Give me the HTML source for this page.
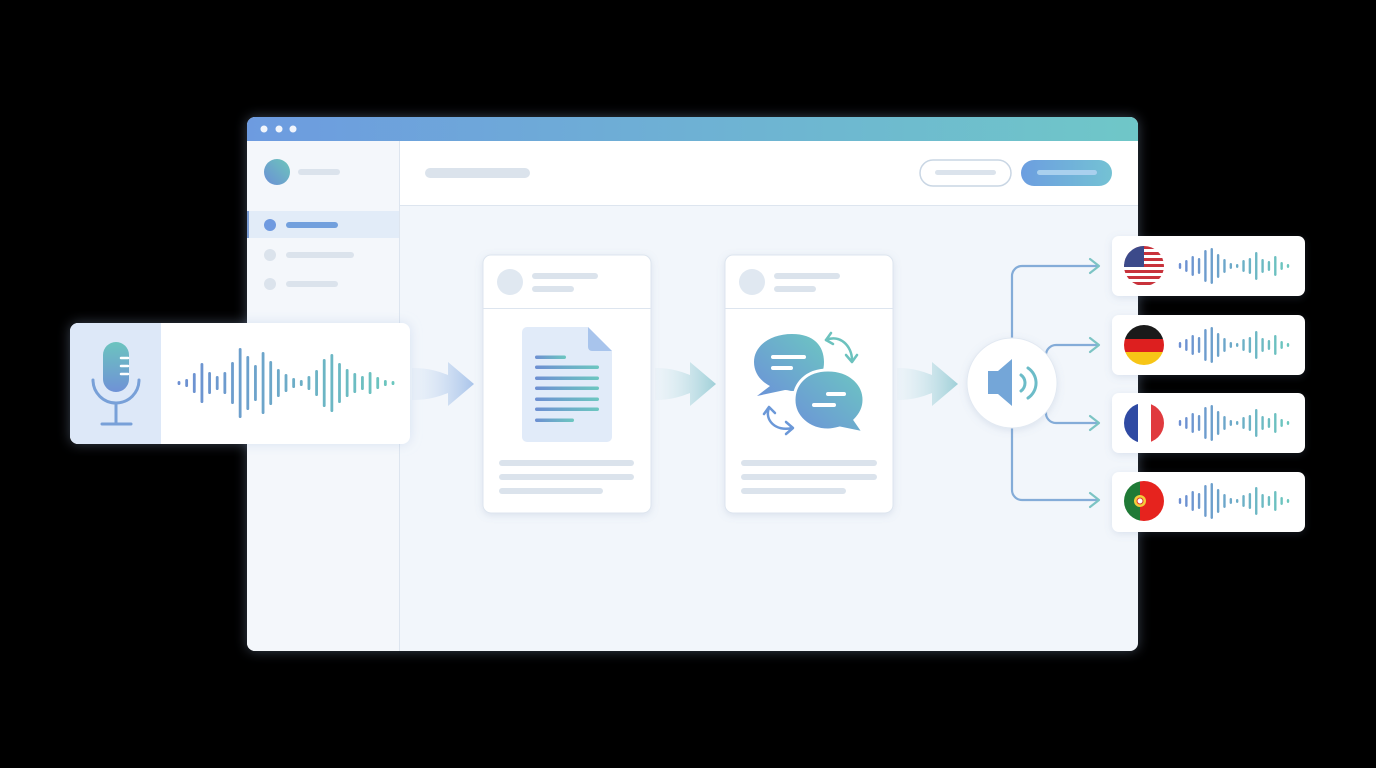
<!DOCTYPE html>
<html><head><meta charset="utf-8"><style>
html,body{margin:0;padding:0;background:#000;width:1376px;height:768px;overflow:hidden}
svg{display:block}
</style></head><body>
<svg id="s" width="1376" height="768" viewBox="0 0 1376 768" xmlns="http://www.w3.org/2000/svg">
<defs>
<linearGradient id="hdr" x1="0" x2="1"><stop offset="0" stop-color="#6d9be0"/><stop offset="1" stop-color="#6fc7c8"/></linearGradient>
<linearGradient id="bg" x1="0" x2="1"><stop offset="0" stop-color="#6d8fd2"/><stop offset="1" stop-color="#6cc7c0"/></linearGradient>
<linearGradient id="btn" x1="0" x2="1"><stop offset="0" stop-color="#6c9ee0"/><stop offset="1" stop-color="#74c2d4"/></linearGradient>
<linearGradient id="av" x1="0" y1="1" x2="1" y2="0"><stop offset="0" stop-color="#6b8fd6"/><stop offset="1" stop-color="#6cc6bb"/></linearGradient>
<linearGradient id="mic" x1="0" y1="0" x2="0" y2="1"><stop offset="0" stop-color="#6cc4bf"/><stop offset="1" stop-color="#6f92d6"/></linearGradient>
<linearGradient id="arr" x1="0" x2="1"><stop offset="0" stop-color="#dfeaf6" stop-opacity="0.3"/><stop offset="1" stop-color="#a9c4ea"/></linearGradient>
<linearGradient id="arr2" x1="0" x2="1"><stop offset="0" stop-color="#e2eef4" stop-opacity="0.3"/><stop offset="1" stop-color="#9fd0d8"/></linearGradient>
<linearGradient id="bub" x1="0" y1="1" x2="1" y2="0"><stop offset="0" stop-color="#6b92d8"/><stop offset="1" stop-color="#6dc6c2"/></linearGradient>
<filter id="sh" x="-20%" y="-20%" width="140%" height="140%"><feDropShadow dx="0" dy="2" stdDeviation="4" flood-color="#6a86b0" flood-opacity="0.18"/></filter>
<filter id="glow" x="-10%" y="-10%" width="120%" height="120%"><feDropShadow dx="0" dy="0" stdDeviation="6" flood-color="#9fb8e0" flood-opacity="0.35"/></filter>
<clipPath id="fc1"><circle cx="1144" cy="266" r="20"/></clipPath>
<clipPath id="fc2"><circle cx="1144" cy="345" r="20"/></clipPath>
<clipPath id="fc3"><circle cx="1144" cy="423" r="20"/></clipPath>
<clipPath id="fc4"><circle cx="1144" cy="501" r="20"/></clipPath>
</defs>
<rect width="1376" height="768" fill="#000"/>
<g filter="url(#glow)">
<rect x="247" y="117" width="891" height="534" rx="8" fill="#f2f6fb"/>
</g>
<path d="M255 117 H1130 a8 8 0 0 1 8 8 V141 H247 V125 a8 8 0 0 1 8-8Z" fill="url(#hdr)"/>
<circle cx="264" cy="129" r="3.5" fill="#fff" opacity="0.9"/><circle cx="279" cy="129" r="3.5" fill="#fff" opacity="0.9"/><circle cx="293" cy="129" r="3.5" fill="#fff" opacity="0.9"/>
<path d="M247 141 H399 V651 H255 a8 8 0 0 1 -8 -8Z" fill="#f4f7fb"/>
<line x1="399.5" y1="141" x2="399.5" y2="651" stroke="#dde5ef"/>
<rect x="400" y="141" width="738" height="64" fill="#fff"/>
<line x1="400" y1="205.5" x2="1138" y2="205.5" stroke="#dde5ef"/>
<circle cx="277" cy="172" r="13" fill="url(#av)"/>
<rect x="298" y="169" width="42" height="6" rx="3" fill="#dbe3ec"/>
<rect x="247" y="211" width="152" height="27" fill="#e2ecf8"/>
<rect x="247" y="211" width="2" height="27" fill="#7d9fd6"/>
<circle cx="270" cy="225" r="6" fill="#6f9ae0"/>
<rect x="286" y="222" width="52" height="6" rx="3" fill="#72a0dd"/>
<circle cx="270" cy="255" r="6" fill="#dbe3ec"/><rect x="286" y="252" width="68" height="6" rx="3" fill="#dbe3ec"/>
<circle cx="270" cy="284" r="6" fill="#dbe3ec"/><rect x="286" y="281" width="52" height="6" rx="3" fill="#dbe3ec"/>
<rect x="425" y="168" width="105" height="10" rx="5" fill="#dbe3ec"/>
<rect x="920" y="160" width="91" height="26" rx="13" fill="#fff" stroke="#c9d6e4" stroke-width="1.5"/>
<rect x="935" y="170" width="61" height="5" rx="2.5" fill="#dbe3ec"/>
<rect x="1021" y="160" width="91" height="26" rx="13" fill="url(#btn)"/>
<rect x="1037" y="170" width="60" height="5" rx="2.5" fill="#a9d0ee"/>
<path d="M412 368 C430 368 440 372 448 375 V362 L474 384 L448 406 V393 C440 396 430 400 412 400Z" fill="url(#arr)"/>
<path d="M655 368 C672 368 682 372 690 375 V362 L716 384 L690 406 V393 C682 396 672 400 655 400Z" fill="url(#arr2)"/>
<path d="M897 368 C914 368 924 372 932 375 V362 L958 384 L932 406 V393 C924 396 914 400 897 400Z" fill="url(#arr2)"/>
<g filter="url(#sh)"><rect x="483" y="255" width="168" height="258" rx="8" fill="#fff" stroke="#dde5ef"/></g>
<line x1="483" y1="308.5" x2="651" y2="308.5" stroke="#dde5ef"/>
<circle cx="510" cy="282" r="13" fill="#e0e8f1"/>
<rect x="532" y="273" width="66" height="6" rx="3" fill="#dbe3ec"/><rect x="532" y="286" width="42" height="6" rx="3" fill="#dbe3ec"/>
<path d="M527 327 H588 L612 351 V437 a5 5 0 0 1 -5 5 H527 a5 5 0 0 1 -5 -5 V332 a5 5 0 0 1 5 -5Z" fill="#e1ebf9"/>
<path d="M588 327 L612 351 H592 a4 4 0 0 1 -4 -4Z" fill="#a8c4ec"/>
<g fill="url(#bg)">
<rect x="535" y="355.5" width="31" height="3.5" rx="1.7"/><rect x="535" y="365.5" width="64" height="3.5" rx="1.7"/><rect x="535" y="376.5" width="64" height="3.5" rx="1.7"/><rect x="535" y="386.5" width="64" height="3.5" rx="1.7"/><rect x="535" y="397.5" width="64" height="3.5" rx="1.7"/><rect x="535" y="407.5" width="64" height="3.5" rx="1.7"/><rect x="535" y="418.5" width="39" height="3.5" rx="1.7"/>
</g>
<rect x="499" y="460" width="135" height="6" rx="3" fill="#dbe3ec"/><rect x="499" y="474" width="135" height="6" rx="3" fill="#dbe3ec"/><rect x="499" y="488" width="104" height="6" rx="3" fill="#dbe3ec"/>
<g filter="url(#sh)"><rect x="725" y="255" width="168" height="258" rx="8" fill="#fff" stroke="#dde5ef"/></g>
<line x1="725" y1="308.5" x2="893" y2="308.5" stroke="#dde5ef"/>
<circle cx="752" cy="282" r="13" fill="#e0e8f1"/>
<rect x="774" y="273" width="66" height="6" rx="3" fill="#dbe3ec"/><rect x="774" y="286" width="42" height="6" rx="3" fill="#dbe3ec"/>
<path d="M792 334 C770 334 754 346 754 362 C754 374 762 382 770 386 L757 396 L785 390 C788 390 790 391 792 391 C814 391 824 378 824 362 C824 346 814 334 792 334Z" fill="url(#bub)"/>
<rect x="771" y="355" width="35" height="4" rx="2" fill="#fff"/><rect x="771" y="366" width="22" height="4" rx="2" fill="#fff"/>
<path d="M828 370 C806 370 794 384 794 400 C794 416 808 430 828 430 C832 430 836 429 840 428 L864 433 L855 420 C861 414 864 408 864 400 C864 384 850 370 828 370Z" fill="url(#bub)" stroke="#fff" stroke-width="3"/>
<rect x="826" y="392" width="20" height="4" rx="2" fill="#fff"/><rect x="812" y="403" width="24" height="4" rx="2" fill="#fff"/>
<g fill="none" stroke="#6cc2be" stroke-width="2.5" stroke-linecap="round" stroke-linejoin="round">
<path d="M826 340 C840 334 852 346 852 360"/><path d="M831 333 L826 340 L833 344"/><path d="M846 355 L852 362 L857 355"/>
</g>
<g fill="none" stroke="#6b98d8" stroke-width="2.5" stroke-linecap="round" stroke-linejoin="round">
<path d="M769 408 C764 420 776 432 792 428"/><path d="M764 414 L769 407 L775 413"/><path d="M786 422 L793 428 L786 434"/>
</g>
<g fill="#dbe3ec"><rect x="741" y="460" width="136" height="6" rx="3"/><rect x="741" y="474" width="136" height="6" rx="3"/><rect x="741" y="488" width="105" height="6" rx="3"/></g>
<g fill="none" stroke="#84acd8" stroke-width="2.2" stroke-linecap="round" stroke-linejoin="round">
<path d="M1012 345 V276 a10 10 0 0 1 10 -10 H1098"/>
<path d="M1012 420 V490 a10 10 0 0 0 10 10 H1098"/>
<path d="M1046 355 a10 10 0 0 1 10 -10 H1098"/>
<path d="M1046 412 a10 10 0 0 0 10 11 H1098"/>
</g>
<g fill="none" stroke="#7cc4c4" stroke-width="2.2" stroke-linecap="round" stroke-linejoin="round">
<path d="M1090 259 L1099 266 L1090 273"/><path d="M1090 338 L1099 345 L1090 352"/><path d="M1090 416 L1099 423 L1090 430"/><path d="M1090 493 L1099 500 L1090 507"/>
</g>
<g filter="url(#sh)"><circle cx="1012" cy="383" r="45" fill="#fff" stroke="#e2e9f2"/></g>
<path d="M988 371 H998 L1012 359 V406 L998 394 H988Z" fill="#74a6d8"/>
<g fill="none" stroke="#6cbcc8" stroke-width="3" stroke-linecap="round"><path d="M1021 375 a10 10 0 0 1 0 16"/><path d="M1028 368 a18 18 0 0 1 0 30"/></g>
<g filter="url(#sh)">
<rect x="1112" y="236" width="193" height="60" rx="7" fill="#fff"/>
<rect x="1112" y="315" width="193" height="60" rx="7" fill="#fff"/>
<rect x="1112" y="393" width="193" height="60" rx="7" fill="#fff"/>
<rect x="1112" y="472" width="193" height="60" rx="7" fill="#fff"/>
</g>
<g clip-path="url(#fc1)">
<rect x="1124" y="246" width="40" height="40" fill="#fff"/>
<g fill="#c8323b"><rect x="1124" y="246" width="40" height="3"/><rect x="1124" y="252" width="40" height="3"/><rect x="1124" y="258" width="40" height="3"/><rect x="1124" y="264" width="40" height="3"/><rect x="1124" y="270" width="40" height="3"/><rect x="1124" y="276" width="40" height="3"/><rect x="1124" y="282" width="40" height="3"/></g>
<rect x="1124" y="246" width="20" height="21" fill="#3c4a8a"/>
</g>
<g clip-path="url(#fc2)"><rect x="1124" y="325" width="40" height="14" fill="#1a1a1a"/><rect x="1124" y="339" width="40" height="13" fill="#dd1f1f"/><rect x="1124" y="352" width="40" height="14" fill="#f7c516"/></g>
<g clip-path="url(#fc3)"><rect x="1124" y="403" width="14" height="40" fill="#2f4aa3"/><rect x="1138" y="403" width="13" height="40" fill="#fff"/><rect x="1151" y="403" width="14" height="40" fill="#e03a3e"/></g>
<g clip-path="url(#fc4)"><rect x="1124" y="481" width="16" height="40" fill="#1f7a36"/><rect x="1140" y="481" width="25" height="40" fill="#e6231e"/><circle cx="1140" cy="501" r="6" fill="#f3cc3a"/><circle cx="1140" cy="501" r="3" fill="#fff" stroke="#d33" stroke-width="1"/></g>
<g id="waves"></g>
<g filter="url(#glow)"><rect x="70" y="323" width="340" height="121" rx="8" fill="#fff"/></g>
<path d="M78 323 H161 V444 H78 a8 8 0 0 1 -8 -8 V331 a8 8 0 0 1 8 -8Z" fill="#dde8f8"/>
<rect x="103" y="342" width="26" height="50" rx="13" fill="url(#mic)"/>
<g stroke="#fff" stroke-width="2.5" stroke-linecap="round"><line x1="121" y1="358" x2="128" y2="358"/><line x1="121" y1="366" x2="128" y2="366"/><line x1="121" y1="374" x2="128" y2="374"/></g>
<path d="M93 380 a23 23 0 0 0 46 0" fill="none" stroke="#78a0d8" stroke-width="3" stroke-linecap="round"/>
<line x1="116" y1="403" x2="116" y2="423" stroke="#78a0d8" stroke-width="3"/>
<line x1="102" y1="424" x2="131" y2="424" stroke="#78a0d8" stroke-width="3" stroke-linecap="round"/>
<g id="micw"></g>
</svg>
<script>
var NS="http://www.w3.org/2000/svg";
function lerp(a,b,t){return Math.round(a+(b-a)*t)}
function col(t){return "rgb("+lerp(109,108,t)+","+lerp(143,199,t)+","+lerp(210,190,t)+")"}
function bars(g,x0,x1,cy,hs,w){var n=hs.length;for(var i=0;i<n;i++){var x=x0+(x1-x0)*i/(n-1);var h=hs[i];var l=document.createElementNS(NS,"rect");l.setAttribute("x",x-w/2);l.setAttribute("y",cy-h/2);l.setAttribute("width",w);l.setAttribute("height",h);l.setAttribute("rx",w/2);l.setAttribute("fill",col(i/(n-1)));g.appendChild(l);}}
var mh=[4,8,20,40,22,14,22,42,70,54,36,62,44,28,18,10,6,14,26,48,58,40,28,20,14,22,12,6,4];
bars(document.getElementById("micw"),179,393,383,mh,2.8);
var fh=[6,12,20,16,32,36,24,14,6,4,12,16,28,14,10,20,8,4];
var g=document.getElementById("waves");
[266,345,423,501].forEach(function(y){bars(g,1180,1288,y,fh,2.4)});
</script>
</body></html>
